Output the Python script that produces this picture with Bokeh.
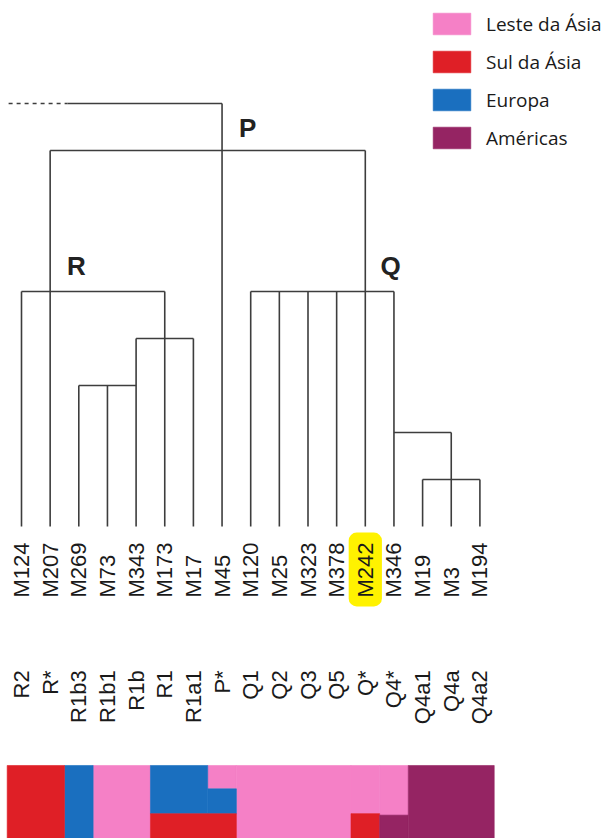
import numpy as np
from bokeh.plotting import figure
from bokeh.models import Range1d, Legend, LegendItem
from bokeh.core.properties import value
from bokeh.embed import file_html
from bokeh.resources import INLINE

# ---------------- data ----------------
markers = ["M124", "M207", "M269", "M73", "M343", "M173", "M17", "M45", "M120",
           "M25", "M323", "M378", "M242", "M346", "M19", "M3", "M194"]
haplogroups = ["R2", "R*", "R1b3", "R1b1", "R1b", "R1", "R1a1", "P*", "Q1",
               "Q2", "Q3", "Q5", "Q*", "Q4*", "Q4a1", "Q4a", "Q4a2"]
# tree level where each leaf's vertical branch starts (0 = root)
branch_start = [4, 1, 6, 6, 5, 4, 5, 0, 4, 4, 4, 4, 1, 4, 8, 7, 8]
leaf_level = 9
# horizontal connectors: level, from leaf index, to leaf index
h_level = [0, 1, 4, 5, 6, 4, 7, 8]
h_from = [1.6, 1, 0, 4, 2, 8, 13, 14]
h_to = [7, 12, 5, 6, 4, 13, 15, 16]
# dashed stem leading into the root
stem_from = [-0.45]
stem_to = [1.6]
stem_level = [0]
# clade names
clade_names = ["P", "R", "Q"]
clade_x = [7.89, 1.92, 12.88]
clade_level = [0.53, 3.45, 3.45]
highlight_marker = "M242"

# regional composition strip (fractions per column)
regions = ["Leste da Ásia", "Sul da Ásia", "Europa", "Américas"]
region_colors = ["#F580C6", "#DF1F26", "#1A6FBF", "#952463"]
east_asia = [0, 0, 0, 1, 1, 0, 0, 0.32, 1, 1, 1, 1, 0.66, 0.68, 0, 0, 0]
south_asia = [1, 1, 0, 0, 0, 0.34, 0.34, 0.34, 0, 0, 0, 0, 0.34, 0, 0, 0, 0]
europe = [0, 0, 1, 0, 0, 0.66, 0.66, 0.34, 0, 0, 0, 0, 0, 0, 0, 0, 0]
americas = [0, 0, 0, 0, 0, 0, 0, 0, 0, 0, 0, 0, 0, 0.32, 1, 1, 1]

# ---------------- layout constants ----------------
W, H = 609, 838
PX_PER_LEAF = 28.65
PX_PER_LEVEL = 47.0
x0 = -21 / PX_PER_LEAF
y_top = -103 / PX_PER_LEVEL
LINE = "#3d3d3d"
TXT = "#1a1a1a"
marker_row = 10.51      # bottom of marker labels
haplo_row = 12.06       # top of haplogroup labels
strip_top = 14.085
strip_h = 1.553

p = figure(width=W, height=H, output_backend="svg", toolbar_location=None,
           x_range=Range1d(x0, x0 + W / PX_PER_LEAF),
           y_range=Range1d(y_top + H / PX_PER_LEVEL, y_top),
           x_axis_location=None, y_axis_location=None, min_border=0)
p.grid.visible = False
p.outline_line_color = None
p.background_fill_color = "white"

idx = np.arange(len(markers))

# highlight behind M242
hi = markers.index(highlight_marker)
try:
    p.quad(left=[hi - 0.58], right=[hi + 0.58], top=[9.13], bottom=[10.70],
           fill_color="#FFF200", line_color=None, border_radius=8)
except Exception:
    p.quad(left=[hi - 0.58], right=[hi + 0.58], top=[9.13], bottom=[10.70],
           fill_color="#FFF200", line_color=None)

# tree
p.segment(x0=idx, y0=branch_start, x1=idx, y1=[leaf_level] * len(idx),
          line_color=LINE, line_width=1.6)
p.segment(x0=h_from, y0=h_level, x1=h_to, y1=h_level,
          line_color=LINE, line_width=1.6)
p.segment(x0=stem_from, y0=stem_level, x1=stem_to, y1=stem_level,
          line_color=LINE, line_width=1.6, line_dash="4 4")

p.text(x=clade_x, y=clade_level, text=clade_names, text_font=value("Liberation Sans"),
       text_font_size="26px", text_font_style="bold", text_color="#222222",
       text_align="center", text_baseline="middle")

# labels
p.text(x=idx, y=[marker_row] * len(idx), text=markers, angle=np.pi / 2,
       text_font=value("Liberation Sans"), text_font_size="22px", text_color=TXT,
       text_align="left", text_baseline="middle")
p.text(x=idx, y=[haplo_row] * len(idx), text=haplogroups, angle=np.pi / 2,
       text_font=value("Liberation Sans"), text_font_size="22px", text_color=TXT,
       text_align="right", text_baseline="middle")

# strip (stack order top -> bottom); contiguous equal cells merged into one block
stack = [("Leste da Ásia", east_asia), ("Europa", europe),
         ("Sul da Ásia", south_asia), ("Américas", americas)]
cum = np.zeros(len(idx))
renderers = {}
for name, fr in stack:
    fr = np.array(fr, dtype=float)
    top = strip_top + cum * strip_h
    bot = top + fr * strip_h
    L, R, T, B = [], [], [], []
    i = 0
    while i < len(idx):
        if fr[i] > 0:
            j = i
            while (j + 1 < len(idx) and fr[j + 1] > 0
                   and np.isclose(top[j + 1], top[i]) and np.isclose(bot[j + 1], bot[i])):
                j += 1
            L.append(idx[i] - 0.5); R.append(idx[j] + 0.5)
            T.append(top[i]); B.append(bot[i])
            i = j + 1
        else:
            i += 1
    col = region_colors[regions.index(name)]
    r = p.quad(left=L, right=R, top=T, bottom=B, fill_color=col,
               line_color=col, line_width=0.6)
    renderers[name] = r
    cum = cum + fr

legend = Legend(items=[LegendItem(label=n, renderers=[renderers[n]]) for n in regions],
                location=(428, H - 10 - (4 * 27 + 3 * 11)), orientation="vertical",
                glyph_width=47, glyph_height=27, spacing=11, label_standoff=11,
                label_height=27, padding=0, margin=0,
                border_line_color=None, background_fill_alpha=0,
                label_text_font="Open Sans", label_text_font_size="19px",
                label_text_color=TXT, label_text_baseline="middle")
p.add_layout(legend)

open("out.html", "w").write(file_html(p, INLINE))
